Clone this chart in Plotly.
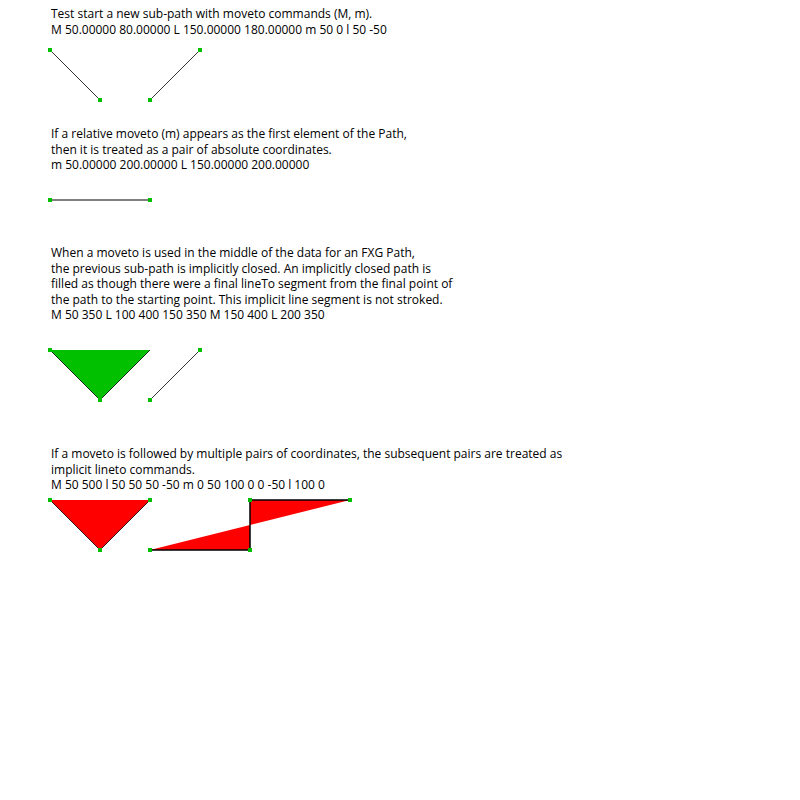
import plotly.graph_objects as go

# --- text blocks (first line y, lines)
text_blocks = [
    (14, ["Test start a new sub-path with moveto commands (M, m).",
          "M 50.00000 80.00000 L 150.00000 180.00000 m 50 0 l 50 -50"]),
    (134, ["If a relative moveto (m) appears as the first element of the Path,",
           "then it is treated as a pair of absolute coordinates.",
           "m 50.00000 200.00000 L 150.00000 200.00000"]),
    (254, ["When a moveto is used in the middle of the data for an FXG Path,",
           "the previous sub-path is implicitly closed. An implicitly closed path is",
           "filled as though there were a final lineTo segment from the final point of",
           "the path to the starting point. This implicit line segment is not stroked.",
           "M 50 350 L 100 400 150 350 M 150 400 L 200 350"]),
    (454, ["If a moveto is followed by multiple pairs of coordinates, the subsequent pairs are treated as",
           "implicit lineto commands.",
           "M 50 500 l 50 50 50 -50 m 0 50 100 0 0 -50 l 100 0"]),
]

# --- filled sub-paths
fill_x = [[50, 100, 150], [50, 100, 150], [150, 250, 250, 350]]
fill_y = [[350, 400, 350], [500, 550, 500], [550, 550, 500, 500]]
fill_colors = ["#00c000", "#ff0000", "#ff0000"]

# --- stroked sub-paths
stroke_x = [[50, 100], [150, 200], [50, 150], [50, 100, 150], [150, 200],
            [50, 100, 150], [150, 250, 250, 350]]
stroke_y = [[50, 100], [100, 50], [200, 200], [350, 400, 350], [400, 350],
            [500, 550, 500], [550, 550, 500, 500]]
stroke_w = [0.8, 0.8, 1.2, 0.8, 0.8, 0.8, 1.5]

# --- anchor points (small green squares)
anchor_x = [50, 100, 150, 200, 50, 150, 50, 100, 150, 200,
            50, 100, 150, 150, 250, 250, 350]
anchor_y = [50, 100, 100, 50, 200, 200, 350, 400, 400, 350,
            500, 550, 500, 550, 550, 500, 500]

fig = go.Figure()

for xs, ys, c in zip(fill_x, fill_y, fill_colors):
    fig.add_trace(go.Scatter(x=xs, y=ys, mode="lines", fill="toself",
                             fillcolor=c, line=dict(width=0, color=c),
                             hoverinfo="skip"))

for xs, ys, w in zip(stroke_x, stroke_y, stroke_w):
    fig.add_trace(go.Scatter(x=xs, y=ys, mode="lines",
                             line=dict(color="black", width=w),
                             hoverinfo="skip"))

fig.add_trace(go.Scatter(x=anchor_x, y=anchor_y, mode="markers",
                         marker=dict(symbol="square", size=4, color="#00c000",
                                     line=dict(width=0))))

# one annotation per block, centred on the block's middle line
for y0, lines in text_blocks:
    mid = y0 + 14.6 * (len(lines) - 1) / 2
    fig.add_annotation(x=50, y=mid, text="<br>".join(lines), showarrow=False,
                       xanchor="left", yanchor="middle", align="left",
                       xref="x", yref="y", borderpad=0,
                       font=dict(family="Open Sans", size=12, color="black"))

fig.update_layout(
    width=800, height=800,
    margin=dict(l=0, r=0, t=0, b=0),
    paper_bgcolor="white", plot_bgcolor="white",
    showlegend=False,
    xaxis=dict(range=[0, 800], visible=False),
    yaxis=dict(range=[800, 0], visible=False),
)

# drop the default page margin so figure pixels line up with the window
fig.write_html("out.html", config={"displayModeBar": False},
               post_script="document.body.style.margin='0';")
